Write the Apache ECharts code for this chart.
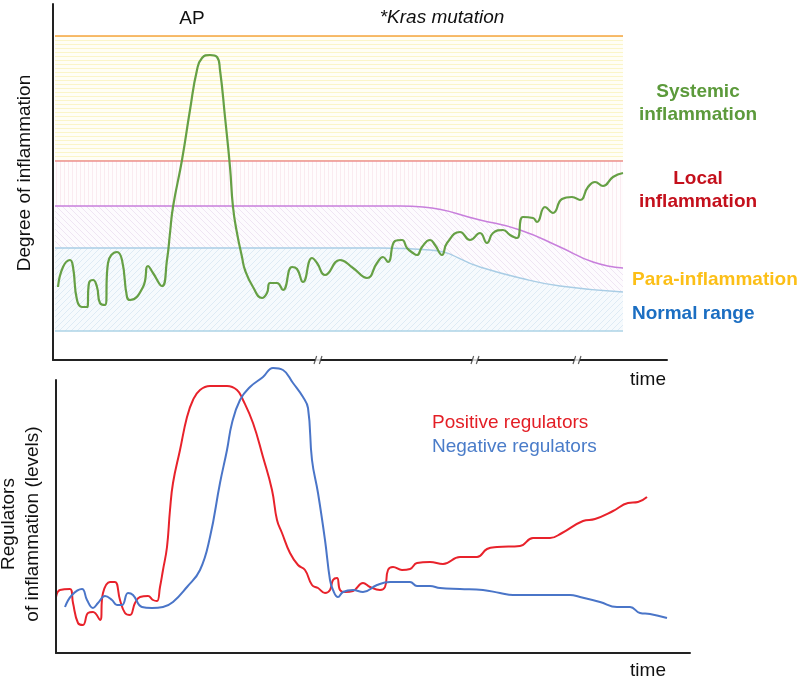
<!DOCTYPE html>
<html><head><meta charset="utf-8">
<script src="https://cdn.jsdelivr.net/npm/echarts@6/dist/echarts.min.js"></script>
<style>html,body{margin:0;padding:0;background:#fff}#c{width:800px;height:680px}</style>
</head><body><div id="c"></div>
<script>
// ---- Top panel: degree of inflammation (x: time units, y: degree units) ----
const inflammationCurve = [[5,73],[10,93],[17,100],[20,93],[24,60],[29,53],[34,53],[36,77],[40,80],[44,73],[47,57],[52,55],[55,97],[64,108],[69,100],[74,63],[77,60],[90,73],[95,94],[100,87],[109,74],[114,100],[117,127],[120,153],[129,200],[137,250],[144,290],[149,302],[157,305],[164,303],[167,290],[172,243],[177,193],[180,153],[184,127],[189,103],[192,90],[200,73],[209,62],[214,67],[217,77],[224,77],[230,70],[239,93],[244,91],[250,78],[259,102],[264,97],[272,85],[287,100],[300,92],[314,82],[324,97],[330,103],[335,98],[342,119],[349,120],[354,112],[360,107],[364,105],[369,113],[377,120],[382,115],[389,105],[394,117],[407,128],[417,120],[427,127],[434,117],[440,127],[450,130],[457,125],[464,122],[470,143],[480,142],[484,138],[492,153],[500,147],[509,161],[519,163],[527,160],[535,173],[542,178],[550,174],[560,183],[570,187]];
const bandStart = 2, bandEnd = 570;
const systemicTop = 324;
const localTop = 199;
const normalBottom = 29;
const paraTop = [[2,154],[327,154],[347,154],[370,153],[427,140],[467,130],[507,113],[540,98],[570,92]];
const normalTop = [[2,112],[327,112],[377,110],[427,93],[467,82],[507,74],[570,68]];
const axisBreaks = [265, 422, 524];

// ---- Bottom panel: regulators of inflammation ----
const positiveRegulators = [[0,56],[4,63],[14,64],[17,50],[22,30],[27,28],[32,40],[37,41],[44,33],[47,60],[54,71],[59,71],[64,53],[69,40],[74,38],[79,50],[84,56],[92,57],[97,53],[101,52],[104,66],[107,83],[111,106],[114,143],[117,170],[124,203],[131,236],[137,253],[144,263],[154,267],[171,267],[181,263],[187,253],[197,230],[207,196],[216,163],[221,133],[226,120],[234,100],[242,88],[249,83],[256,68],[262,65],[269,60],[274,63],[277,73],[281,75],[284,63],[289,61],[297,62],[307,70],[314,66],[324,63],[329,66],[332,83],[337,86],[346,83],[354,84],[361,90],[374,91],[387,89],[404,96],[421,96],[431,104],[441,106],[464,107],[477,115],[494,115],[506,120],[527,132],[539,134],[557,142],[572,150],[582,151],[591,156]];
const negativeRegulators = [[9,46],[16,58],[26,64],[31,53],[37,45],[42,50],[49,57],[56,53],[61,48],[66,48],[72,60],[77,58],[86,46],[96,45],[107,46],[117,51],[131,66],[144,83],[154,116],[164,170],[171,203],[176,230],[184,253],[194,266],[207,276],[217,285],[227,283],[237,270],[247,256],[252,245],[256,193],[262,160],[269,113],[274,73],[277,63],[282,56],[287,61],[297,63],[307,61],[321,68],[334,71],[354,71],[361,67],[374,67],[384,65],[404,64],[427,63],[444,60],[457,58],[514,58],[524,56],[544,51],[561,46],[574,46],[584,40],[594,39],[611,35]];

function hatch(bg, stroke, kind) {
  const s = kind === 'h' || kind === 'v' ? 4 : 6;
  const c = document.createElement('canvas');
  c.width = s; c.height = s;
  const g = c.getContext('2d');
  g.fillStyle = bg; g.fillRect(0, 0, s, s);
  g.strokeStyle = stroke; g.lineWidth = 1;
  g.beginPath();
  if (kind === 'h') { g.moveTo(0, 0.5); g.lineTo(s, 0.5); }
  else if (kind === 'v') { g.moveTo(0.5, 0); g.lineTo(0.5, s); }
  else if (kind === 'b') { g.moveTo(-1, -1); g.lineTo(s + 1, s + 1); g.moveTo(-1, s - 1); g.lineTo(1, s + 1); g.moveTo(s - 1, -1); g.lineTo(s + 1, 1); }
  else { g.moveTo(-1, s + 1); g.lineTo(s + 1, -1); g.moveTo(-1, 1); g.lineTo(1, -1); g.moveTo(s - 1, s + 1); g.lineTo(s + 1, s - 1); }
  g.stroke();
  return { image: c, repeat: 'repeat' };
}

const chart = echarts.init(document.getElementById('c'), null, { renderer: 'canvas' });
const FONT = '"Liberation Sans", Arial, sans-serif';
const axisCommon = {
  type: 'value', z: 5,
  axisTick: { show: false }, axisLabel: { show: false }, splitLine: { show: false },
  axisLine: { show: true, lineStyle: { color: '#222', width: 2 } }
};
function band(data, lineColor, fill, smooth) {
  return {
    type: 'line', xAxisIndex: 0, yAxisIndex: 0, data, smooth: smooth || false,
    symbol: 'none', silent: true,
    lineStyle: { color: lineColor, width: 1.5 },
    areaStyle: { color: fill, opacity: 1 }
  };
}
function flat(v) { return [[bandStart, v], [bandEnd, v]]; }

function txt(text, x, y, opts) {
  opts = opts || {};
  return {
    type: 'text', x, y, rotation: opts.rotation || 0, silent: true,
    style: {
      text, fill: opts.color || '#111',
      font: (opts.style || '') + ' ' + (opts.weight || 'normal') + ' ' + (opts.size || 19) + 'px ' + FONT,
      align: opts.align || 'center', verticalAlign: 'middle', lineHeight: opts.lh || 23
    }
  };
}

chart.setOption({
  animation: false,
  backgroundColor: '#fff',
  grid: [
    { left: 53, top: 4, width: 614, height: 356 },
    { left: 56, top: 380, width: 634, height: 273 }
  ],
  xAxis: [
    Object.assign({}, axisCommon, { gridIndex: 0, min: 0, max: 614 }),
    Object.assign({}, axisCommon, { gridIndex: 1, min: 0, max: 634 })
  ],
  yAxis: [
    Object.assign({}, axisCommon, { gridIndex: 0, min: 0, max: 356 }),
    Object.assign({}, axisCommon, { gridIndex: 1, min: 0, max: 273 })
  ],
  series: [
    band(flat(systemicTop), '#f5a440', hatch('#fffef5', '#fbf5c8', 'h')),
    band(flat(localTop), '#ec8f8f', hatch('#fffcfd', '#faebf0', 'v')),
    band(paraTop, '#c87fdc', hatch('#fdfbfe', '#efe5f3', 'b'), 0.5),
    band(normalTop, '#a9cde5', hatch('#f6fafd', '#deebf5', 'f'), 0.5),
    band(flat(normalBottom), '#add3e6', '#ffffff'),
    {
      type: 'line', xAxisIndex: 0, yAxisIndex: 0, data: inflammationCurve,
      smooth: 0.5, symbol: 'none', silent: true,
      lineStyle: { color: '#66a045', width: 2.2 }
    },
    {
      type: 'scatter', xAxisIndex: 0, yAxisIndex: 0, z: 10, silent: true,
      data: axisBreaks.map(v => [v, 0]), symbol: 'rect', symbolSize: [6, 5],
      itemStyle: { color: '#fff' }
    },
    {
      type: 'scatter', xAxisIndex: 0, yAxisIndex: 0, z: 11, silent: true,
      data: axisBreaks.map(v => [v, 0]),
      symbol: 'path://M0,10 L3,0 M6,10 L9,0', symbolSize: [8, 8],
      itemStyle: { color: 'rgba(0,0,0,0)', borderColor: '#333', borderWidth: 1.2 }
    },
    {
      type: 'line', xAxisIndex: 1, yAxisIndex: 1, data: positiveRegulators, clip: false,
      smooth: 0.45, symbol: 'none', silent: true,
      lineStyle: { color: '#e8222b', width: 2 }
    },
    {
      type: 'line', xAxisIndex: 1, yAxisIndex: 1, data: negativeRegulators, clip: false,
      smooth: 0.45, symbol: 'none', silent: true,
      lineStyle: { color: '#4a75c8', width: 2 }
    }
  ],
  graphic: [
    txt('AP', 192, 19),
    txt('*Kras mutation', 442, 18, { style: 'italic' }),
    txt('Systemic\ninflammation', 698, 103, { weight: 'bold', color: '#5c9a3b' }),
    txt('Local\ninflammation', 698, 190, { weight: 'bold', color: '#c4101c' }),
    txt('Para-inflammation', 632, 280, { weight: 'bold', color: '#fcbf17', align: 'left' }),
    txt('Normal range', 632, 314, { weight: 'bold', color: '#1b6ec2', align: 'left' }),
    txt('*', 403, 191, { color: '#555', size: 16 }),
    txt('time', 648, 380),
    txt('time', 648, 671),
    txt('Degree of inflammation', 25, 173, { rotation: Math.PI / 2 }),
    txt('Regulators', 9, 524, { rotation: Math.PI / 2 }),
    txt('of inflammation (levels)', 33, 524, { rotation: Math.PI / 2 }),
    txt('Positive regulators', 432, 423, { color: '#e31e25', align: 'left' }),
    txt('Negative regulators', 432, 447, { color: '#4a7cc9', align: 'left' })
  ]
});
</script>
</body></html>
